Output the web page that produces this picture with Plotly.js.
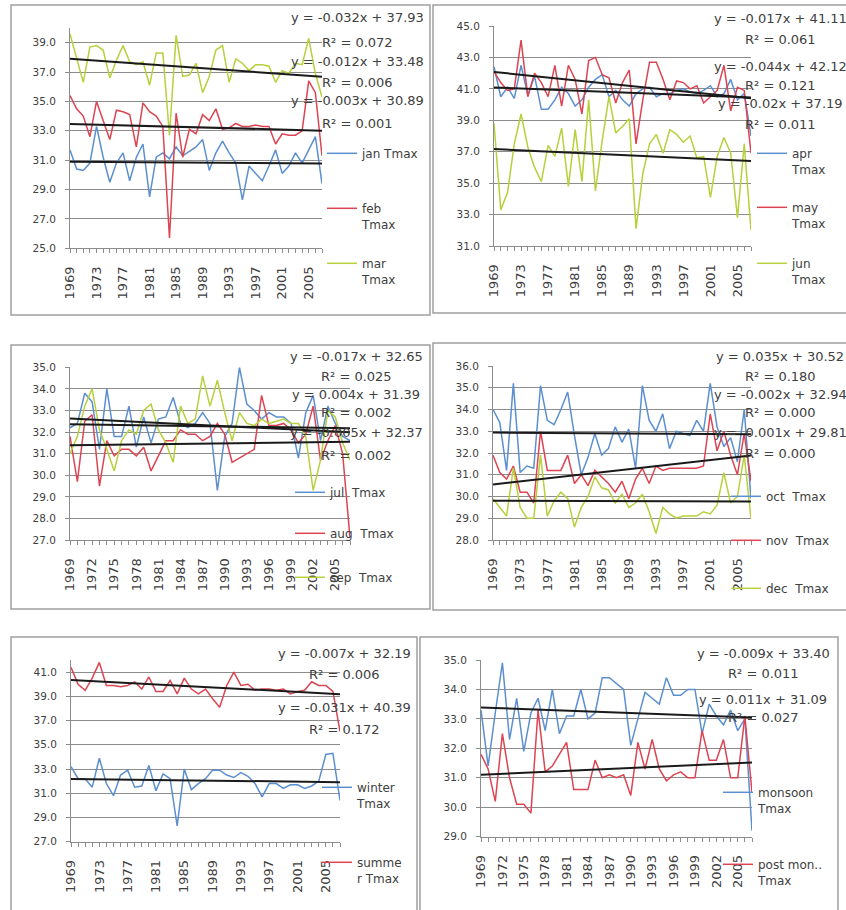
<!DOCTYPE html>
<html><head><meta charset="utf-8">
<script src="https://cdn.plot.ly/plotly-3.0.1.min.js"></script>
<style>html,body{margin:0;padding:0;background:#fff}#chart{width:846px;height:910px}</style>
</head><body><div id="chart"></div>
<script>
// ---------- DATA ----------
const years = [1969,1970,1971,1972,1973,1974,1975,1976,1977,1978,1979,1980,1981,1982,1983,1984,1985,1986,1987,1988,1989,1990,1991,1992,1993,1994,1995,1996,1997,1998,1999,2000,2001,2002,2003,2004,2005,2006,2007];

const jan = [31.7,30.4,30.3,30.8,33.3,31.2,29.5,30.8,31.5,29.6,31.2,32.1,28.5,31.2,31.5,31.1,31.9,31.3,31.6,31.9,32.4,30.3,31.5,32.3,31.5,30.8,28.3,30.6,30.1,29.6,30.6,31.7,30.1,30.6,31.5,30.8,31.7,32.6,29.4];
const feb = [35.4,34.5,34.0,32.6,35.0,33.7,32.4,34.4,34.3,34.1,31.9,34.9,34.3,34.0,33.3,25.7,34.2,31.2,33.1,32.8,34.1,33.7,34.5,33.1,33.2,33.5,33.3,33.3,33.4,33.3,33.3,32.1,32.8,32.7,32.7,33.0,36.4,35.6,31.3];
const mar = [39.6,38.0,36.3,38.7,38.8,38.5,36.6,37.8,38.8,37.7,37.5,37.7,36.1,38.3,38.3,32.7,39.5,36.7,36.8,37.6,35.6,36.7,38.5,38.8,36.3,37.9,37.6,37.1,37.5,37.5,37.4,36.3,37.1,36.9,37.6,37.5,39.3,36.9,35.3];
const apr = [42.4,40.5,41.1,40.4,42.5,40.6,41.8,39.7,39.7,40.3,41.1,40.7,39.9,40.3,41.1,41.6,41.9,40.5,40.9,40.3,39.9,40.7,41.0,41.1,40.5,40.7,40.7,40.9,41.0,40.8,40.7,40.9,41.2,40.5,40.7,41.6,40.3,40.7,38.0];
const may = [42.1,41.4,40.9,41.0,44.1,40.5,42.0,41.4,40.5,42.5,39.9,42.5,41.6,39.4,42.8,43.0,41.9,41.7,40.1,41.4,42.2,37.5,40.3,42.7,42.7,41.6,40.3,41.5,41.4,41.0,41.2,40.1,40.5,40.9,42.5,39.6,41.1,40.9,36.9];
const jun = [38.8,33.3,34.4,37.5,39.4,37.3,36.0,35.1,37.4,36.7,38.5,34.8,38.4,35.1,40.3,34.5,37.7,40.5,38.2,38.6,39.1,32.1,35.6,37.5,38.1,36.9,38.4,38.1,37.6,38.0,36.6,36.7,34.1,36.7,37.9,36.9,32.8,37.5,32.0];
const jul = [32.2,32.4,33.8,33.4,31.2,34.0,31.8,31.8,33.2,31.3,32.7,31.5,32.6,32.7,33.6,32.4,32.2,32.4,32.9,32.4,29.3,31.8,32.4,35.0,33.3,33.0,32.6,32.9,32.7,32.7,32.4,30.8,32.9,33.7,31.6,33.2,32.4,31.8,31.6];
const aug = [31.8,29.7,32.5,32.8,29.5,31.6,30.9,31.2,31.2,30.9,31.3,30.2,30.9,31.6,31.6,32.1,31.9,31.9,31.6,31.8,32.4,31.9,30.6,30.8,31.0,31.2,33.7,32.3,32.3,32.4,32.1,31.5,31.9,33.2,30.7,31.6,32.3,31.0,27.1];
const sep = [31.0,31.8,33.2,34.0,32.1,31.2,30.2,31.6,32.1,31.9,33.0,33.3,32.1,31.5,30.6,33.2,32.4,32.6,34.6,33.2,34.4,32.9,31.6,32.9,32.4,32.3,32.6,32.4,32.5,32.6,32.4,32.4,31.8,29.3,30.7,33.0,32.7,31.5,30.7];
const oct = [34.0,33.4,31.2,35.2,31.1,31.4,31.3,35.1,33.5,33.3,34.0,34.8,32.8,31.0,31.8,32.9,31.9,32.2,33.2,32.5,33.1,31.3,35.1,33.5,33.0,33.8,32.2,33.0,32.9,32.8,33.5,33.0,35.2,33.2,32.3,32.7,31.6,34.0,29.9];
const nov = [31.9,31.1,30.8,31.4,30.2,30.2,29.7,33.0,31.2,31.2,31.2,31.9,30.6,31.0,30.5,31.2,30.9,30.6,30.2,30.7,29.9,30.8,31.3,30.6,31.4,31.2,31.3,31.3,31.3,31.3,31.3,31.4,33.8,32.1,33.0,31.9,31.0,32.9,30.7];
const dec = [29.9,29.5,29.1,31.3,29.5,29.0,29.0,31.9,29.1,29.8,30.2,29.9,28.6,29.5,30.0,30.9,30.4,30.3,29.7,30.1,29.5,29.7,30.1,29.3,28.3,29.5,29.2,29.0,29.1,29.1,29.1,29.3,29.2,29.6,31.1,29.7,30.0,31.9,29.0];
const winter = [33.2,32.2,32.2,31.5,33.9,31.8,30.8,32.5,32.9,31.5,31.6,33.3,31.2,32.6,32.2,28.3,33.0,31.3,31.8,32.2,32.9,32.9,32.5,32.3,32.7,32.4,31.8,30.7,31.8,31.8,31.4,31.7,31.7,31.4,31.6,32.0,34.2,34.3,30.4];
const summer = [41.4,40.0,39.5,40.5,41.8,39.9,39.9,39.8,39.9,40.2,39.6,40.6,39.4,39.4,40.3,39.2,40.5,39.6,39.2,39.6,38.8,38.1,39.9,41.0,39.9,40.0,39.5,39.6,39.6,39.5,39.6,39.2,39.4,39.5,40.2,39.9,39.9,39.4,36.1];
const monsoon = [33.3,31.4,33.2,34.9,32.3,33.7,31.9,33.2,33.7,32.6,34.0,32.5,33.1,33.1,34.0,33.0,33.2,34.4,34.4,34.2,34.0,32.1,33.0,33.9,33.7,33.5,34.4,33.8,33.8,34.0,34.0,32.5,33.5,33.1,32.8,33.3,32.6,33.0,29.2];
const postmon = [31.8,31.3,30.2,32.5,31.0,30.1,30.1,29.8,33.3,31.2,31.4,31.8,32.2,30.6,30.6,30.6,31.6,31.0,31.1,31.0,31.1,30.4,32.2,31.3,32.3,31.3,30.9,31.1,31.2,31.0,31.0,32.6,31.6,31.6,32.3,31.0,31.0,33.1,30.5];

// series names (legend labels), in series order
const seriesNames = ['jan Tmax','feb<br>Tmax','mar<br>Tmax','apr<br>Tmax','may<br>Tmax','jun<br>Tmax','jul  Tmax','aug  Tmax','sep  Tmax','oct  Tmax','nov  Tmax','dec  Tmax','winter<br>Tmax','summe<br>r Tmax','monsoon<br>Tmax','post mon..<br>Tmax'];
// linear trendline coefficients (x = 1..n) and R², as printed on the chart
const trendSlope     = [-0.003,-0.012,-0.032,-0.017,-0.044,-0.02,-0.017,0.004,-0.005,-0.002,0.035,-0.001,-0.007,-0.031,-0.009,0.011];
const trendIntercept = [30.89,33.48,37.93,41.11,42.12,37.19,32.65,31.39,32.37,32.94,30.52,29.81,32.19,40.39,33.40,31.09];
const trendR2        = [0.001,0.006,0.072,0.061,0.121,0.011,0.025,0.002,0.002,0.000,0.180,0.000,0.006,0.172,0.011,0.027];

// ---------- STYLE / LAYOUT ----------
const seriesValues = [jan,feb,mar,apr,may,jun,jul,aug,sep,oct,nov,dec,winter,summer,monsoon,postmon];
const BLUE='#5b8fcf', RED='#dc4452', GREEN='#b7d03c';
const seriesColors = [BLUE,RED,GREEN,BLUE,RED,GREEN,BLUE,RED,GREEN,BLUE,RED,GREEN,BLUE,RED,BLUE,RED];
const W=846, H=910;
const FONT='DejaVu Sans, Verdana, sans-serif', TXT='#404040', GRID='#8c8c8c';

// panel geometry (reference pixels)
const panels = [
  {box:[11,5,430,315],  plot:[70,28,322,248.3],  yr:[25,40], dt:2, step:4, series:[0,1,2],
   labelOrder:[2,1,0], cx:357, eqY:[17,62,100], rY:[42,82,124],
   leg:[[362,153],[362,208],[362,263]]},
  {box:[433,5,852,313], plot:[494,26,751,246],  yr:[31,45], dt:2, step:4, series:[3,4,5],
   labelOrder:[3,4,5], cx:780, eqY:[18,67,103], rY:[40,85,125],
   leg:[[792,153],[792,207],[792,263]]},
  {box:[11,345,430,609], plot:[70,367.3,350,540], yr:[27,35], dt:1, step:3, series:[6,7,8],
   labelOrder:[6,7,8], cx:356, eqY:[357,394,432], rY:[376,413,455],
   leg:[[330,492],[330,533],[330,577]]},
  {box:[433,343,852,610], plot:[493,366,751,540], yr:[28,36], dt:1, step:4, series:[9,10,11],
   labelOrder:[10,9,11], cx:780, eqY:[357,394,432], rY:[376,413,453],
   leg:[[766,496],[766,540],[766,588]]},
  {box:[11,637,417,915], plot:[71,660,340,841.7], yr:[27,42], dt:2, step:4, series:[12,13],
   labelOrder:[12,13], cx:344, eqY:[653,707], rY:[674,729],
   leg:[[357,787],[357,862]]},
  {box:[420,637,838,915], plot:[481,660,752,836.7], yr:[29,35], dt:1, step:3, series:[14,15],
   labelOrder:[14,15], cx:763, eqY:[653,699], rY:[673,717],
   leg:[[758,792],[758,864]]}
];

const traces=[], layout={width:W,height:H,margin:{l:0,r:0,t:0,b:0},paper_bgcolor:'#fff',plot_bgcolor:'#fff',
  showlegend:true, shapes:[], annotations:[], font:{family:FONT,color:TXT}};

function fmtEq(k){
  const s=trendSlope[k];
  return 'y = '+(s<0?'-':'')+String(Math.abs(s))+'x + '+trendIntercept[k].toFixed(2);
}

panels.forEach((p,pi)=>{
  const sfx = pi===0?'':String(pi+1);
  const [px0,py0,px1,py1]=p.plot;
  layout['xaxis'+sfx]={domain:[px0/W,px1/W], range:[years[0],years[years.length-1]], anchor:'y'+sfx,
    tickmode:'array', tickvals:years, ticktext:years.map((y,i)=> i%p.step===0?String(y):''),
    tickangle:-90, ticks:'outside', ticklen:4, tickcolor:GRID, showline:true, linecolor:GRID, linewidth:1,
    showgrid:false, zeroline:false, tickfont:{family:FONT,size:13,color:TXT}, ticklabelstandoff:8, fixedrange:true};
  layout['yaxis'+sfx]={domain:[1-py1/H,1-py0/H], range:p.yr, anchor:'x'+sfx, tick0:p.yr[0], dtick:p.dt,
    tickformat:'.1f', ticks:'outside', ticklen:4, tickcolor:GRID, showline:true, linecolor:GRID, linewidth:1,
    showgrid:true, gridcolor:GRID, gridwidth:1, zeroline:false, tickfont:{family:FONT,size:10.5,color:TXT},
    ticklabelstandoff:7, fixedrange:true};
  layout.shapes.push({type:'rect',xref:'paper',yref:'paper',x0:p.box[0]/W,x1:p.box[2]/W,y0:1-p.box[3]/H,y1:1-p.box[1]/H,
    line:{color:'#a0a0a0',width:1.5},fillcolor:'rgba(0,0,0,0)',layer:'below'});
  // data series + legends
  p.series.forEach((k,j)=>{
    const legId = k===0?'legend':'legend'+(k+1);
    traces.push({type:'scatter',mode:'lines',x:years,y:seriesValues[k],name:seriesNames[k],
      xaxis:'x'+sfx,yaxis:'y'+sfx,line:{color:seriesColors[k],width:1.5},legend:legId,hoverinfo:'skip'});
    const [tx,ly]=p.leg[j];
    layout[legId]={x:(tx-40)/W,y:1-(ly-14)/H,xanchor:'left',yanchor:'top',bgcolor:'rgba(0,0,0,0)',borderwidth:0,
      font:{family:FONT,size:12,color:TXT},valign:'top',itemclick:false,itemdoubleclick:false};
  });
  // trendlines
  p.series.forEach((k)=>{
    const n=seriesValues[k].length;
    traces.push({type:'scatter',mode:'lines',x:[years[0],years[n-1]],
      y:[trendSlope[k]*1+trendIntercept[k], trendSlope[k]*n+trendIntercept[k]],
      xaxis:'x'+sfx,yaxis:'y'+sfx,line:{color:'#1a1a1a',width:2},showlegend:false,hoverinfo:'skip'});
  });
  // trendline labels
  p.labelOrder.forEach((k,j)=>{
    layout.annotations.push({xref:'paper',yref:'paper',x:p.cx/W,y:1-p.eqY[j]/H,xanchor:'center',yanchor:'middle',
      text:fmtEq(k),showarrow:false,font:{family:FONT,size:13,color:TXT}});
    layout.annotations.push({xref:'paper',yref:'paper',x:p.cx/W,y:1-p.rY[j]/H,xanchor:'center',yanchor:'middle',
      text:'R² = '+trendR2[k].toFixed(3),showarrow:false,font:{family:FONT,size:13,color:TXT}});
  });
});

Plotly.newPlot('chart',traces,layout,{staticPlot:true,displayModeBar:false});
</script></body></html>
